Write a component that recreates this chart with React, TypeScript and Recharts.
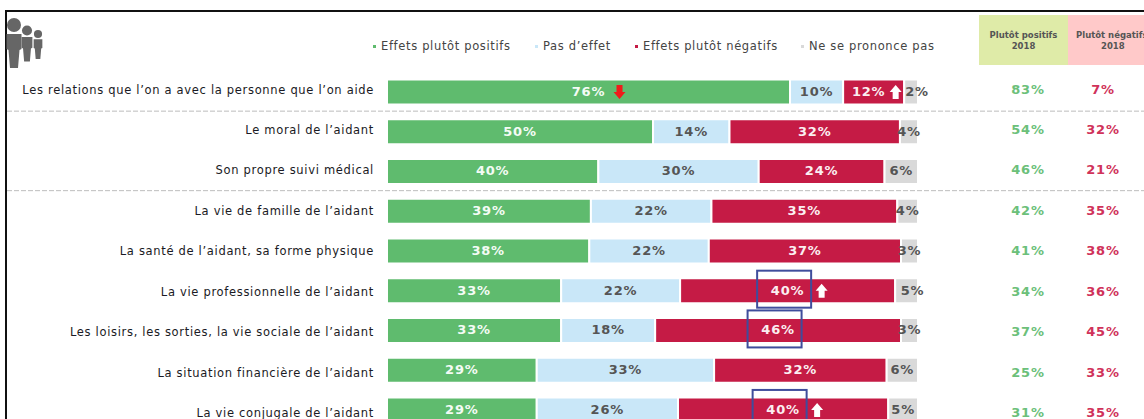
import { BarChart, Bar, XAxis, YAxis, Legend, LabelList } from "recharts"

const FONT = "'DejaVu Sans', Verdana, sans-serif"

// Values: bar lengths, then the rounded figures printed on them
const categories = [
  "Les relations que l’on a avec la personne que l’on aide",
  "Le moral de l’aidant",
  "Son propre suivi médical",
  "La vie de famille de l’aidant",
  "La santé de l’aidant, sa forme physique",
  "La vie professionnelle de l’aidant",
  "Les loisirs, les sorties, la vie sociale de l’aidant",
  "La situation financière de l’aidant",
  "La vie conjugale de l’aidant",
]
const positifs = [75.9, 50.1, 39.8, 38.4, 38.1, 32.8, 32.8, 28.2, 28.2]
const sansEffet = [10, 14.4, 30.2, 22.7, 22.5, 22.4, 17.7, 33.4, 26.6]
const negatifs = [11.5, 32.1, 23.7, 35, 36.2, 40.5, 46.3, 32.5, 39.6]
const nsp = [2.6, 3.4, 6.3, 3.9, 3.2, 4.3, 3.2, 5.9, 5.6]

const positifsLabels = [76, 50, 40, 39, 38, 33, 33, 29, 29]
const sansEffetLabels = [10, 14, 30, 22, 22, 22, 18, 33, 26]
const negatifsLabels = [12, 32, 24, 35, 37, 40, 46, 32, 40]
const nspLabels = [2, 4, 6, 4, 3, 5, 3, 6, 5]

const positifs2018 = [83, 54, 46, 42, 41, 34, 37, 25, 31]
const negatifs2018 = [7, 32, 21, 35, 38, 36, 45, 33, 35]

const seriesNames = ["Effets plutôt positifs", "Pas d’effet", "Effets plutôt négatifs", "Ne se prononce pas"]
const headerPos = ["Plutôt positifs", "2018"]
const headerNeg = ["Plutôt négatifs", "2018"]

// Annotated rows
const rowsBelowDash = [0, 2]
const boxedRows = [5, 6, 8]
const arrowUpRows = [0, 5, 8]
const arrowDownRows = [0]

const GREEN = "#5fbb6e"
const BLUE = "#c9e7f8"
const RED = "#c51b45"
const GREY = "#d9d9d9"
const legendColors = [GREEN, BLUE, RED, GREY]
const legendX = [373, 535, 635, 801]

const labelsByKind: Record<string, number[]> = {
  positifs: positifsLabels,
  sansEffet: sansEffetLabels,
  negatifs: negatifsLabels,
  nsp: nspLabels,
}

const data = categories.map((name, i) => ({
  name,
  positifs: positifs[i],
  sansEffet: sansEffet[i],
  negatifs: negatifs[i],
  nsp: nsp[i],
}))

const ROW_STEP = 39.75

function Arrow({ cx, cy, color, down }: { cx: number; cy: number; color: string; down?: boolean }) {
  const d = down ? 1 : -1
  const points = [
    [cx - 6, cy],
    [cx - 3, cy],
    [cx - 3, cy - d * 7],
    [cx + 3, cy - d * 7],
    [cx + 3, cy],
    [cx + 6, cy],
    [cx, cy + d * 7],
  ]
  return <polygon points={points.map((p) => p.join(",")).join(" ")} fill={color} />
}

// y axis tick also carries the row separators and the 2018 columns
function RowTick(props: any) {
  const { y, index, payload } = props
  // text rows in the source run on a slightly wider pitch than the bars
  const textY = y - 2.2 + index * 0.68
  return (
    <g>
      <text x={374} y={textY} textAnchor="end" dominantBaseline="middle" fontFamily={FONT} fontSize={11.5} letterSpacing={0.68} fill="#1a1a24">
        {payload.value}
      </text>
      <text x={1028} y={textY} textAnchor="middle" dominantBaseline="middle" fontFamily={FONT} fontSize={13} fontWeight="bold" letterSpacing={0.8} fill="#6cc07a">
        {positifs2018[index]}%
      </text>
      <text x={1103} y={textY} textAnchor="middle" dominantBaseline="middle" fontFamily={FONT} fontSize={13} fontWeight="bold" letterSpacing={0.8} fill="#d0325a">
        {negatifs2018[index]}%
      </text>
      {rowsBelowDash.includes(index) && (
        <line x1={7} x2={1144} y1={y + ROW_STEP / 2 - 1} y2={y + ROW_STEP / 2 - 1} stroke="#bdbdbd" strokeDasharray="5 2" />
      )}
    </g>
  )
}

function ValueLabel(props: any) {
  const { x, y, width, height, index, color, kind } = props
  let cx = x + width / 2
  const cy = y + height / 2
  // a few labels sit off centre in the source
  if (kind === "negatifs" && index === 0) cx -= 5
  if (kind === "nsp" && index === 0) cx += 6
  if (kind === "nsp" && index === 5) cx += 6
  return (
    <g>
      {kind === "negatifs" && boxedRows.includes(index) && (
        <rect x={cx - 30.5} y={cy - 20} width={54} height={37} fill="none" stroke="#3f4d9c" strokeWidth={2} />
      )}
      <text x={cx} y={cy + 0.5} textAnchor="middle" dominantBaseline="middle" fontFamily={FONT} fontSize={13} fontWeight="bold" letterSpacing={0.8} fill={color}>
        {labelsByKind[kind][index]}%
      </text>
      {kind === "negatifs" && arrowUpRows.includes(index) && <Arrow cx={cx + (index === 0 ? 27 : 34)} cy={cy} color="#ffffff" />}
      {kind === "positifs" && arrowDownRows.includes(index) && <Arrow cx={cx + 31} cy={cy} color="#f01b1b" down />}
    </g>
  )
}

function LegendRow() {
  return (
    <div style={{ position: "relative", width: 1144, height: 20, fontFamily: FONT, fontSize: 11.5, letterSpacing: 0.65, color: "#444" }}>
      {seriesNames.map((name, i) => (
        <div key={name} style={{ position: "absolute", left: legendX[i], top: 0, whiteSpace: "nowrap", lineHeight: "20px" }}>
          <span style={{ display: "inline-block", width: 3, height: 3, background: legendColors[i], marginRight: 5, verticalAlign: "middle" }} />
          {name}
        </div>
      ))}
    </div>
  )
}

function People() {
  const fig = (x: number, y: number, s: number) => (
    <g key={x} fill="#666" transform={`translate(${x} ${y}) scale(${s})`}>
      <circle cx={0} cy={0} r={7} />
      <path d="M-7.5 9 h15 v15 l-2 1 l-1.5 18 h-8 l-1.5 -18 l-2 -1 z" />
    </g>
  )
  return (
    <svg width={46} height={56} style={{ position: "absolute", left: 0, top: 14 }}>
      {fig(38, 20, 0.58)}
      {fig(27, 16.5, 0.72)}
      {fig(14, 11, 1)}
    </svg>
  )
}

export default function App() {
  return (
    <div style={{ position: "absolute", left: 0, top: 0, width: 1144, height: 419, overflow: "hidden", background: "#fff" }}>
      {/* frame */}
      <div style={{ position: "absolute", left: 5, top: 10, width: 1139, height: 2, background: "#111" }} />
      <div style={{ position: "absolute", left: 5, top: 10, width: 2, height: 409, background: "#111" }} />

      {/* 2018 column heads */}
      <div style={{ position: "absolute", left: 979, top: 15, width: 89, height: 50, background: "#dfeba8", color: "#555", fontFamily: FONT, fontSize: 8.5, fontWeight: "bold", textAlign: "center", lineHeight: "11px", paddingTop: 15, boxSizing: "border-box" }}>
        {headerPos[0]}<br />{headerPos[1]}
      </div>
      <div style={{ position: "absolute", left: 1068, top: 15, width: 76, height: 50, background: "#ffc9c9", color: "#555", fontFamily: FONT, fontSize: 8.5, fontWeight: "bold", lineHeight: "11px", paddingTop: 15, boxSizing: "border-box", whiteSpace: "nowrap", overflow: "hidden" }}>
        <div style={{ paddingLeft: 8 }}>{headerNeg[0]}</div>
        <div style={{ paddingLeft: 33 }}>{headerNeg[1]}</div>
      </div>

      <People />

      <div style={{ position: "absolute", left: 0, top: 0 }}>
        <BarChart
          width={1144}
          height={440}
          data={data}
          layout="vertical"
          barSize={25}
          margin={{ top: 52.4, right: 226, bottom: 9.8, left: 0 }}
        >
          <XAxis type="number" domain={[0, 100]} hide />
          <YAxis type="category" dataKey="name" width={387} axisLine={false} tickLine={false} interval={0} tick={RowTick} />
          <Legend verticalAlign="top" content={() => <LegendRow />} wrapperStyle={{ position: "absolute", left: 0, top: 36, width: 1144 }} />
          <Bar dataKey="positifs" stackId="a" fill={GREEN} stroke="#fff" strokeWidth={2} isAnimationActive={false}>
            <LabelList dataKey="positifs" content={(p: any) => <ValueLabel {...p} color="#f4fbf5" kind="positifs" />} />
          </Bar>
          <Bar dataKey="sansEffet" stackId="a" fill={BLUE} stroke="#fff" strokeWidth={2} isAnimationActive={false}>
            <LabelList dataKey="sansEffet" content={(p: any) => <ValueLabel {...p} color="#555" kind="sansEffet" />} />
          </Bar>
          <Bar dataKey="negatifs" stackId="a" fill={RED} stroke="#fff" strokeWidth={2} isAnimationActive={false}>
            <LabelList dataKey="negatifs" content={(p: any) => <ValueLabel {...p} color="#fbeef1" kind="negatifs" />} />
          </Bar>
          <Bar dataKey="nsp" stackId="a" fill={GREY} stroke="#fff" strokeWidth={2} isAnimationActive={false}>
            <LabelList dataKey="nsp" content={(p: any) => <ValueLabel {...p} color="#555" kind="nsp" />} />
          </Bar>
        </BarChart>
      </div>
    </div>
  )
}
